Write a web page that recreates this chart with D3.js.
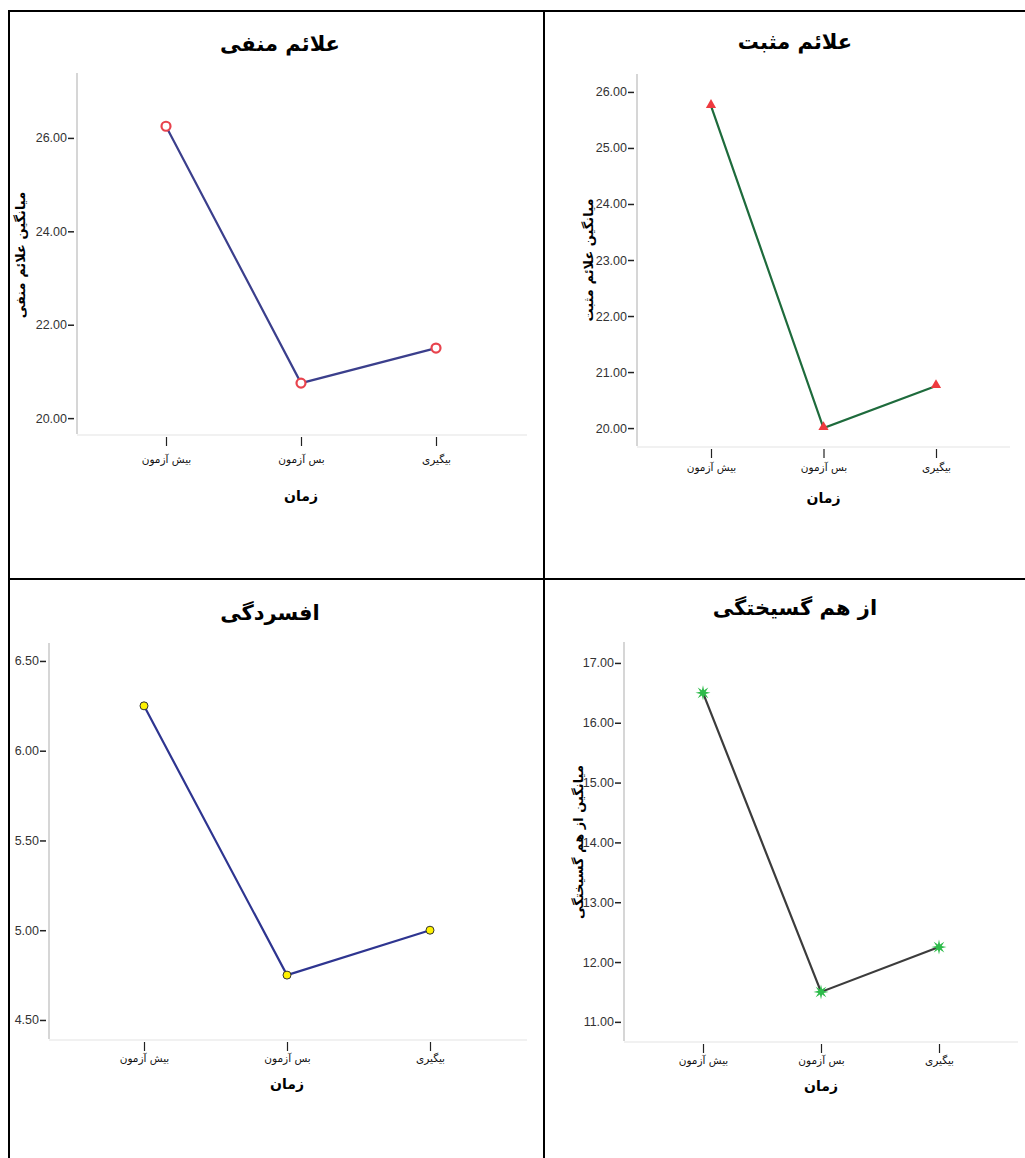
<!DOCTYPE html>
<html>
<head>
<meta charset="utf-8">
<script src="https://cdn.jsdelivr.net/npm/d3@7"></script>
<style>
  body { margin: 0; background: white; }
  .tick-label { font-family: "Liberation Sans Narrow", "Liberation Sans", Arial, sans-serif; font-size: 12.5px; fill: #333; }
  .fa { font-family: "DejaVu Sans", sans-serif; }
</style>
</head>
<body>
<div id="chart"></div>
<script>
const W = 1025, H = 1158

// categories on the x axis (time)
const stages = ["بیش آزمون", "بس آزمون", "بیگیری"]

// panel titles and y titles
const titles = ["علائم منفی", "علائم مثبت", "افسردگی", "از هم گسیختگی"]
const yTitles = ["میانگین علائم منفی", "میانگین علائم مثبت", "", "میانگین از هم گسیختگی"]
const xTitle = "زمان"

// means
const negativeVals = [26.25, 20.75, 21.5]
const positiveVals = [25.75, 20.0, 20.75]
const depressionVals = [6.25, 4.75, 5.0]
const disorgVals = [16.5, 11.5, 12.25]

// tick values
const negativeTicks = [20, 22, 24, 26]
const positiveTicks = [20, 21, 22, 23, 24, 25, 26]
const depressionTicks = [4.5, 5.0, 5.5, 6.0, 6.5]
const disorgTicks = [11, 12, 13, 14, 15, 16, 17]

// layout per panel
const panels = [
  { vals: negativeVals, ticks: negativeTicks, yDom: [19.66, 27.39], ax: 77, top: 73, bottom: 434, x0: 166, x1: 436, xEnd: 527,
    tx: 280, ty: 51, ytx: 20, yty: 255, xty: 501, pad: 10, line: "#3b3f8c", marker: "ring" },
  { vals: positiveVals, ticks: positiveTicks, yDom: [19.68, 26.32], ax: 637, top: 74, bottom: 446, x0: 711, x1: 936, xEnd: 1010,
    tx: 795, ty: 49, ytx: 588, yty: 260, xty: 503, pad: 6, line: "#1e6b3c", marker: "triangle" },
  { vals: depressionVals, ticks: depressionTicks, yDom: [4.394, 6.6], ax: 49, top: 643, bottom: 1039, x0: 144, x1: 430, xEnd: 527,
    tx: 270, ty: 620, ytx: 0, yty: 0, xty: 1089, pad: 4, line: "#2e3590", marker: "dot" },
  { vals: disorgVals, ticks: disorgTicks, yDom: [10.68, 17.35], ax: 624, top: 642, bottom: 1041, x0: 703, x1: 939, xEnd: 1018,
    tx: 795, ty: 615, ytx: 578, yty: 842, xty: 1091, pad: 4, line: "#3c3c3c", marker: "star" }
]

const svg = d3.select("#chart").append("svg")
  .attr("width", W)
  .attr("height", H)

svg.append("rect").attr("width", W).attr("height", H).attr("fill", "white")

// 8 point star used in the last panel
const star8 = {
  draw(ctx, size) {
    const ro = Math.sqrt(size) * 0.75, ri = ro * 0.38
    for (let i = 0; i < 16; i++) {
      const a = Math.PI * i / 8 - Math.PI / 2
      const r = i % 2 === 0 ? ro : ri
      if (i === 0) ctx.moveTo(r * Math.cos(a), r * Math.sin(a))
      else ctx.lineTo(r * Math.cos(a), r * Math.sin(a))
    }
    ctx.closePath()
  }
}

panels.forEach(function(p, i) {
  const g = svg.append("g")

  const x = d3.scalePoint().domain(stages).range([p.x0, p.x1])
  const y = d3.scaleLinear().domain(p.yDom).range([p.bottom, p.top])

  // axis lines (light gray)
  g.append("line")
    .attr("x1", p.ax).attr("x2", p.ax)
    .attr("y1", p.top).attr("y2", p.bottom)
    .attr("stroke", "#d6d6d6").attr("stroke-width", 2)
  g.append("line")
    .attr("x1", p.ax).attr("x2", p.xEnd)
    .attr("y1", p.bottom + 1).attr("y2", p.bottom + 1)
    .attr("stroke", "#ececec").attr("stroke-width", 1.5)

  // y axis
  const yAxis = g.append("g")
    .attr("transform", `translate(${p.ax - 3},0)`)
    .call(d3.axisLeft(y).tickValues(p.ticks).tickFormat(d3.format(".2f")).tickSize(6).tickPadding(1))
  yAxis.select(".domain").remove()
  yAxis.selectAll(".tick line").attr("stroke", "#222").attr("stroke-width", 1.5)
  yAxis.selectAll(".tick text").attr("class", "tick-label").attr("font-family", null).attr("font-size", null)

  // x axis
  const xAxis = g.append("g")
    .attr("transform", `translate(0,${p.bottom + 3})`)
    .call(d3.axisBottom(x).tickSize(9).tickPadding(p.pad))
  xAxis.select(".domain").remove()
  xAxis.selectAll(".tick line").attr("stroke", "#222").attr("stroke-width", 1.2)
  xAxis.selectAll(".tick text")
    .attr("class", "fa")
    .attr("font-family", null)
    .attr("font-size", 10.5)
    .attr("fill", "#111")

  g.append("text")
    .attr("class", "fa")
    .attr("x", (p.x0 + p.x1) / 2)
    .attr("y", p.xty)
    .attr("text-anchor", "middle")
    .attr("font-size", 14)
    .attr("font-weight", "bold")
    .text(xTitle)

  // panel title
  g.append("text")
    .attr("class", "fa")
    .attr("x", p.tx)
    .attr("y", p.ty)
    .attr("text-anchor", "middle")
    .attr("font-size", 21)
    .attr("font-weight", "bold")
    .text(titles[i])

  if (yTitles[i] !== "") {
    g.append("text")
      .attr("class", "fa")
      .attr("transform", `translate(${p.ytx},${p.yty}) rotate(-90)`)
      .attr("text-anchor", "middle")
      .attr("dy", "0.35em")
      .attr("font-size", 13)
      .attr("font-weight", "bold")
      .text(yTitles[i])
  }

  // the line
  g.append("path")
    .datum(p.vals)
    .attr("d", d3.line()
      .x(function(d, j) { return x(stages[j]) })
      .y(function(d) { return y(d) }))
    .attr("fill", "none")
    .attr("stroke", p.line)
    .attr("stroke-width", 2.2)

  // markers
  const pts = g.selectAll(".pt").data(p.vals).enter()
  if (p.marker === "ring") {
    pts.append("circle")
      .attr("cx", function(d, j) { return x(stages[j]) })
      .attr("cy", function(d) { return y(d) })
      .attr("r", 4.5)
      .attr("fill", "white")
      .attr("stroke", "#e8434d")
      .attr("stroke-width", 2.2)
  } else if (p.marker === "triangle") {
    pts.append("path")
      .attr("d", d3.symbol().type(d3.symbolTriangle).size(45))
      .attr("transform", function(d, j) { return `translate(${x(stages[j])},${y(d) - 1})` })
      .attr("fill", "#ee3a3f")
  } else if (p.marker === "dot") {
    pts.append("circle")
      .attr("cx", function(d, j) { return x(stages[j]) })
      .attr("cy", function(d) { return y(d) })
      .attr("r", 4)
      .attr("fill", "#fff200")
      .attr("stroke", "#333")
      .attr("stroke-width", 1)
  } else {
    pts.append("path")
      .attr("d", d3.symbol().type(star8).size(100))
      .attr("transform", function(d, j) { return `translate(${x(stages[j])},${y(d)})` })
      .attr("fill", "#2dbb4a")
  }
})

// table borders
const borders = svg.append("g").attr("stroke", "black").attr("stroke-width", 2)
borders.append("line").attr("x1", 9).attr("x2", W).attr("y1", 11).attr("y2", 11)
borders.append("line").attr("x1", 9).attr("x2", W).attr("y1", 579).attr("y2", 579)
borders.append("line").attr("x1", 9).attr("x2", 9).attr("y1", 10).attr("y2", H)
borders.append("line").attr("x1", 544).attr("x2", 544).attr("y1", 10).attr("y2", H)
</script>
</body>
</html>
